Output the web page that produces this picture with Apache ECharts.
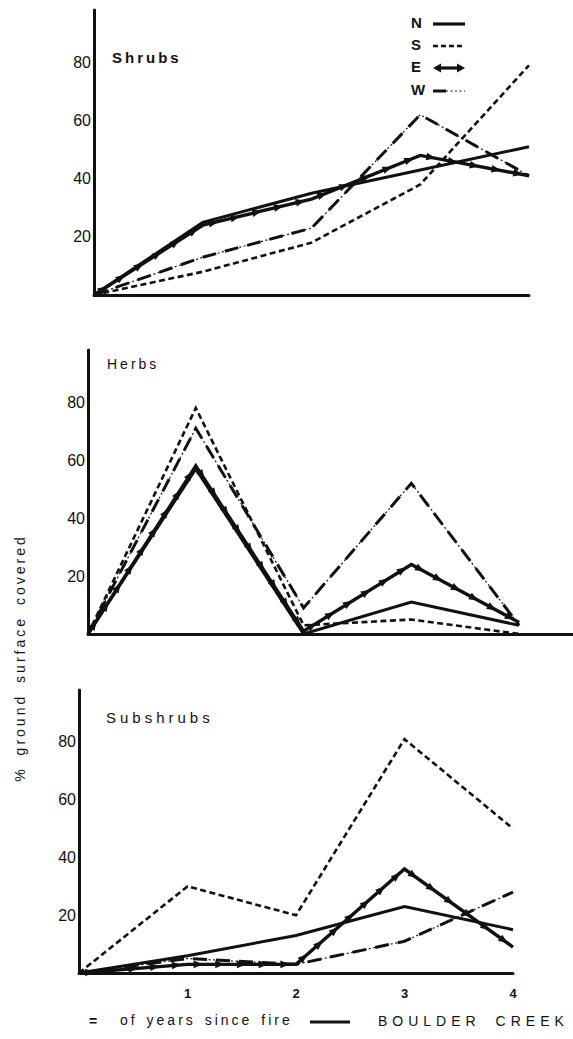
<!DOCTYPE html>
<html>
<head>
<meta charset="utf-8">
<script src="https://cdn.jsdelivr.net/npm/echarts@6/dist/echarts.min.js"></script>
<style>
  html, body { margin: 0; padding: 0; background: #fff; }
  #chart { width: 573px; height: 1039px; }
  /* typewriter-like spacing for the captions */
  #chart text[style*="spacedA"] { letter-spacing: 3px; word-spacing: 4px; }
  #chart text[style*="spacedB"] { letter-spacing: 3px; word-spacing: 2px; }
  #chart text[style*="spaced3"] { letter-spacing: 3px; }
  #chart text[style*="spaced4"] { letter-spacing: 4px; }
  #chart text[style*="spaced5"] { letter-spacing: 5px; word-spacing: 6px; }
</style>
</head>
<body>
<div id="chart"></div>
<script>
// years since fire (x) and axis tick labels
const years = [0, 1, 2, 3, 4];
const yTicks = [20, 40, 60, 80];
const xTicks = [1, 2, 3, 4];
const panelTitles = ['Shrubs', 'Herbs', 'Subshrubs'];

// % ground surface covered, by aspect (N, S, E, W)
const shrubsN = [0, 25, 35, 43, 51];
const shrubsS = [0, 8, 18, 38, 79];
const shrubsE = [0, 24, 33, 48, 41];
const shrubsW = [0, 13, 23, 62, 41];

const herbsN = [0, 57, 0, 11, 3];
const herbsS = [0, 78, 3, 5, 0];
const herbsE = [0, 58, 1, 24, 4];
const herbsW = [0, 71, 9, 52, 3];

const subshrubsN = [0, 6, 13, 23, 15];
const subshrubsS = [0, 30, 20, 81, 50];
const subshrubsE = [0, 3, 3, 36, 9];
const subshrubsW = [0, 5, 3, 11, 28];

const INK = '#111';
const TICK_FONT = 'Liberation Sans, Arial, sans-serif';

const chart = echarts.init(document.getElementById('chart'), null, { renderer: 'svg' });

// three stacked panels
const grids = [
  { left: 94, top: 10, width: 435, height: 285 },
  { left: 88, top: 350, width: 486, height: 284 },
  { left: 79, top: 690, width: 434, height: 283 }
];
const xMax = [4, 4.5, 4];

const xAxes = grids.map((g, i) => ({
  type: 'value', gridIndex: i, min: 0, max: xMax[i], interval: 1,
  axisLine: { show: true, onZero: false, lineStyle: { color: INK, width: 3 } },
  axisTick: { show: false },
  splitLine: { show: false },
  axisLabel: {
    show: i === 2, margin: 14, color: INK, fontSize: 13, fontWeight: 'bold', fontFamily: TICK_FONT,
    formatter: v => (xTicks.includes(v) ? String(v) : '')
  }
}));

const yAxes = grids.map((g, i) => ({
  type: 'value', gridIndex: i, min: 0, max: 98, interval: 20,
  axisLine: { show: true, lineStyle: { color: INK, width: 3 } },
  axisTick: { show: false },
  splitLine: { show: false },
  axisLabel: {
    margin: 3, color: INK, fontSize: 16, fontFamily: TICK_FONT,
    formatter: v => (yTicks.includes(v) ? String(v) : '')
  }
}));

function pts(vals) { return years.map((x, i) => [x, vals[i]]); }

function lineSeries(idx, vals, style, z) {
  return {
    type: 'line', xAxisIndex: idx, yAxisIndex: idx, data: pts(vals),
    symbol: 'none', smooth: false, silent: true, z: z,
    lineStyle: Object.assign({ color: INK, join: 'miter' }, style)
  };
}

// arrowheads running along the E line, segment by segment
function arrowSeries(idx, vals) {
  const segs = [];
  for (let i = 1; i < years.length; i++) segs.push([years[i - 1], vals[i - 1], years[i], vals[i]]);
  return {
    type: 'custom', xAxisIndex: idx, yAxisIndex: idx, data: segs,
    encode: { x: [0, 2], y: [1, 3] }, silent: true, z: 6, clip: false,
    renderItem(params, api) {
      const a = api.coord([api.value(0), api.value(1)]);
      const b = api.coord([api.value(2), api.value(3)]);
      const dx = b[0] - a[0], dy = b[1] - a[1];
      const L = Math.hypot(dx, dy);
      if (L < 1) return { type: 'group', children: [] };
      const ux = dx / L, uy = dy / L;
      const n = Math.max(1, Math.round(L / 22));
      const s = 4.8, w = 3.8;
      const children = [];
      for (let k = 0; k < n; k++) {
        const t = (k + 0.5) / n;
        const cx = a[0] + dx * t, cy = a[1] + dy * t;
        children.push({
          type: 'polygon',
          shape: { points: [
            [cx + ux * s, cy + uy * s],
            [cx - ux * s - uy * w, cy - uy * s + ux * w],
            [cx - ux * s + uy * w, cy - uy * s - ux * w]
          ] },
          style: { fill: INK }
        });
      }
      return { type: 'group', children };
    }
  };
}

function panelSeries(idx, N, S, E, W) {
  return [
    lineSeries(idx, W, { width: 1.2, type: [2, 2.5] }, 2),
    lineSeries(idx, W, { width: 3, type: [14, 9] }, 3),
    lineSeries(idx, S, { width: 2.6, type: [6, 3.5] }, 3),
    lineSeries(idx, N, { width: 3, type: 'solid' }, 4),
    lineSeries(idx, E, { width: 3.4, type: 'solid' }, 5),
    arrowSeries(idx, E)
  ];
}

const series = [].concat(
  panelSeries(0, shrubsN, shrubsS, shrubsE, shrubsW),
  panelSeries(1, herbsN, herbsS, herbsE, herbsW),
  panelSeries(2, subshrubsN, subshrubsS, subshrubsE, subshrubsW)
);

// legend key drawn in the top-right corner of the first panel
const keyX0 = 433, keyX1 = 465;
const keyY = { N: 24, S: 46, E: 68, W: 91 };
const legendGraphics = [];
Object.keys(keyY).forEach(k => {
  legendGraphics.push({
    type: 'text', left: 411, top: keyY[k] - 9,
    style: { text: k, fill: INK, font: 'bold 15px Liberation Sans, Arial, sans-serif' }
  });
});
legendGraphics.push(
  { type: 'line', shape: { x1: keyX0, y1: keyY.N, x2: keyX1, y2: keyY.N }, style: { stroke: INK, lineWidth: 3.2 } },
  { type: 'line', shape: { x1: keyX0, y1: keyY.S, x2: keyX1, y2: keyY.S }, style: { stroke: INK, lineWidth: 2.6, lineDash: [5, 3] } },
  { type: 'line', shape: { x1: keyX0 + 5, y1: keyY.E, x2: keyX1 - 5, y2: keyY.E }, style: { stroke: INK, lineWidth: 3.2 } },
  { type: 'polygon', shape: { points: [[keyX0, keyY.E], [keyX0 + 8, keyY.E - 4.5], [keyX0 + 8, keyY.E + 4.5]] }, style: { fill: INK } },
  { type: 'polygon', shape: { points: [[keyX1, keyY.E], [keyX1 - 8, keyY.E - 4.5], [keyX1 - 8, keyY.E + 4.5]] }, style: { fill: INK } },
  { type: 'line', shape: { x1: keyX0, y1: keyY.W, x2: keyX0 + 13, y2: keyY.W }, style: { stroke: INK, lineWidth: 3 } },
  { type: 'line', shape: { x1: keyX0 + 13, y1: keyY.W, x2: keyX1, y2: keyY.W }, style: { stroke: INK, lineWidth: 1.2, lineDash: [2, 2.5] } }
);

// panel titles
const titlePos = [
  { left: 112, top: 50, font: 'bold 15px Liberation Sans, spaced3' },
  { left: 107, top: 357, font: '14px Liberation Sans, spaced3' },
  { left: 106, top: 710, font: '15px Liberation Sans, spaced4' }
];
const titleGraphics = panelTitles.map((t, i) => ({
  type: 'text', left: titlePos[i].left, top: titlePos[i].top,
  style: { text: t, fill: INK, font: titlePos[i].font }
}));

const captionGraphics = [
  {
    type: 'text', x: 20, y: 658, rotation: Math.PI / 2,
    style: { text: '% ground surface covered', fill: INK, font: '14px Liberation Sans, spacedA', align: 'center', verticalAlign: 'middle' }
  },
  {
    type: 'text', left: 89, top: 1014,
    style: { text: '=', fill: INK, font: 'bold 14px Liberation Sans, Arial, sans-serif' }
  },
  {
    type: 'text', left: 120, top: 1013,
    style: { text: 'of years since fire', fill: INK, font: '14px Liberation Sans, spacedB' }
  },
  { type: 'line', shape: { x1: 310, y1: 1022, x2: 350, y2: 1022 }, style: { stroke: INK, lineWidth: 3 } },
  {
    type: 'text', left: 378, top: 1014,
    style: { text: 'BOULDER CREEK', fill: INK, font: '14px Liberation Sans, spaced5' }
  }
];

chart.setOption({
  animation: false,
  backgroundColor: '#fff',
  grid: grids,
  xAxis: xAxes,
  yAxis: yAxes,
  series: series,
  graphic: [].concat(legendGraphics, titleGraphics, captionGraphics)
});
</script>
</body>
</html>
